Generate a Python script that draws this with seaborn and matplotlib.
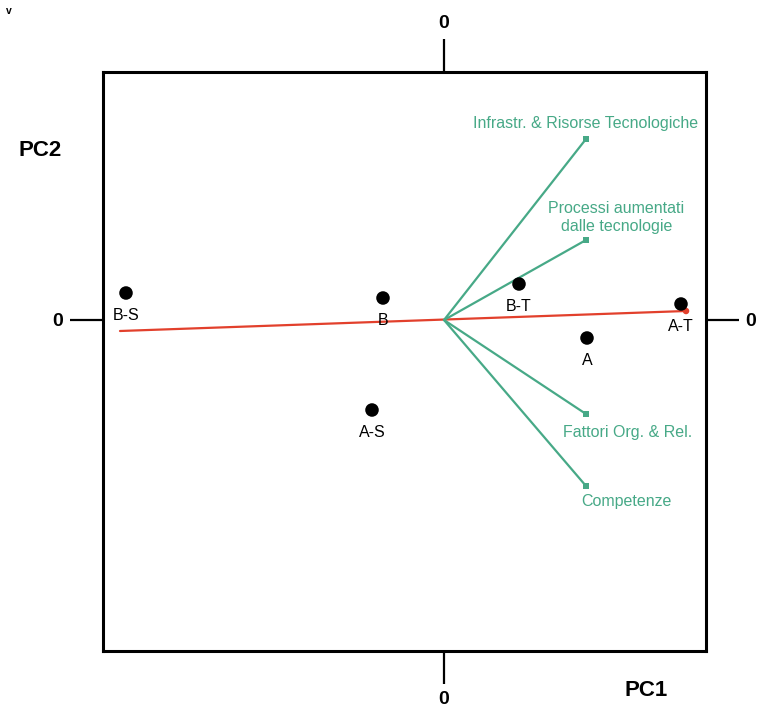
import matplotlib
matplotlib.use("Agg")
import matplotlib.pyplot as plt
import seaborn as sns
import pandas as pd

# ---- data ----
sample_labels = ["B-S", "B", "B-T", "A-T", "A", "A-S"]
sample_pc1 = [-3.18, -0.61, 0.75, 2.37, 1.43, -0.72]
sample_pc2 = [0.27, 0.22, 0.36, 0.16, -0.18, -0.90]

loading_labels = ["Infrastr. & Risorse Tecnologiche",
                  "Processi aumentati\ndalle tecnologie",
                  "Fattori Org. & Rel.",
                  "Competenze"]
loading_pc1 = [1.42, 1.42, 1.42, 1.42]
loading_pc2 = [1.81, 0.80, -0.94, -1.66]

axis_line_pc1 = [-3.24, 2.42]
axis_line_pc2 = [-0.11, 0.09]

tick_values = [0]
tick_labels = ["0"]

# label offsets (points) for loading labels
loading_offsets = [(0, 11), (22, 16), (30, -13), (29, -11.5)]

GREEN = "#47a987"
RED = "#e2402c"

sns.set_style("white")
plt.rcParams["font.family"] = ["Liberation Sans", "DejaVu Sans"]
plt.rcParams["text.color"] = "black"

fig = plt.figure(figsize=(7.6, 7.07), dpi=100)
ax = fig.add_axes([103 / 760, 56 / 707, 603 / 760, 579 / 707])

samples = pd.DataFrame({"PC1": sample_pc1, "PC2": sample_pc2, "label": sample_labels})
loadings = pd.DataFrame({"PC1": loading_pc1, "PC2": loading_pc2, "label": loading_labels})

# red axis line
sns.lineplot(x=axis_line_pc1, y=axis_line_pc2, ax=ax, color=RED, linewidth=1.6,
             sort=False, zorder=2)
ax.scatter([axis_line_pc1[1]], [axis_line_pc2[1]], color=RED, s=22, zorder=3,
           edgecolor="none")

# loading vectors
for _, r in loadings.iterrows():
    ax.plot([0, r["PC1"]], [0, r["PC2"]], color=GREEN, linewidth=1.6, zorder=2)
sns.scatterplot(data=loadings, x="PC1", y="PC2", ax=ax, color=GREEN, marker="s",
                s=22, edgecolor="none", zorder=3, legend=False)
for (_, r), (dx, dy) in zip(loadings.iterrows(), loading_offsets):
    ax.annotate(r["label"], (r["PC1"], r["PC2"]), xytext=(dx, dy),
                textcoords="offset points", ha="center", va="center",
                color=GREEN, fontsize=11.5, linespacing=1.25)

# sample points
sns.scatterplot(data=samples, x="PC1", y="PC2", ax=ax, color="black", s=95,
                edgecolor="none", zorder=4, legend=False)
for _, r in samples.iterrows():
    ax.annotate(r["label"], (r["PC1"], r["PC2"]), xytext=(0, -16.5),
                textcoords="offset points", ha="center", va="center",
                color="black", fontsize=11.5)

ax.set_xlim(-3.41, 2.62)
ax.set_ylim(-3.31, 2.48)
ax.set_xlabel("")
ax.set_ylabel("")

ax.set_xticks(tick_values)
ax.set_yticks(tick_values)
ax.set_xticklabels(tick_labels)
ax.set_yticklabels(tick_labels)
ax.tick_params(axis="x", bottom=True, top=True, labelbottom=True, labeltop=True,
               direction="out", length=23.5, width=1.6, pad=5, labelsize=14,
               colors="black")
ax.tick_params(axis="y", left=True, right=True, labelleft=True, labelright=True,
               direction="out", length=23.5, width=1.6, pad=5, labelsize=14,
               colors="black")
for t in ax.xaxis.get_major_ticks() + ax.yaxis.get_major_ticks():
    t.label1.set_fontweight("bold")
    t.label2.set_fontweight("bold")

for sp in ax.spines.values():
    sp.set_visible(True)
    sp.set_color("black")
    sp.set_linewidth(2.2)

fig.text(40 / 760, 1 - 151 / 707, "PC2", ha="center", va="center",
         fontsize=16, fontweight="bold", color="black")
fig.text(646 / 760, 1 - 691 / 707, "PC1", ha="center", va="center",
         fontsize=16, fontweight="bold", color="black")
fig.text(9 / 760, 1 - 11 / 707, "v", ha="center", va="center",
         fontsize=7.5, fontweight="bold", color="black")

fig.savefig("out.png", dpi=100)
